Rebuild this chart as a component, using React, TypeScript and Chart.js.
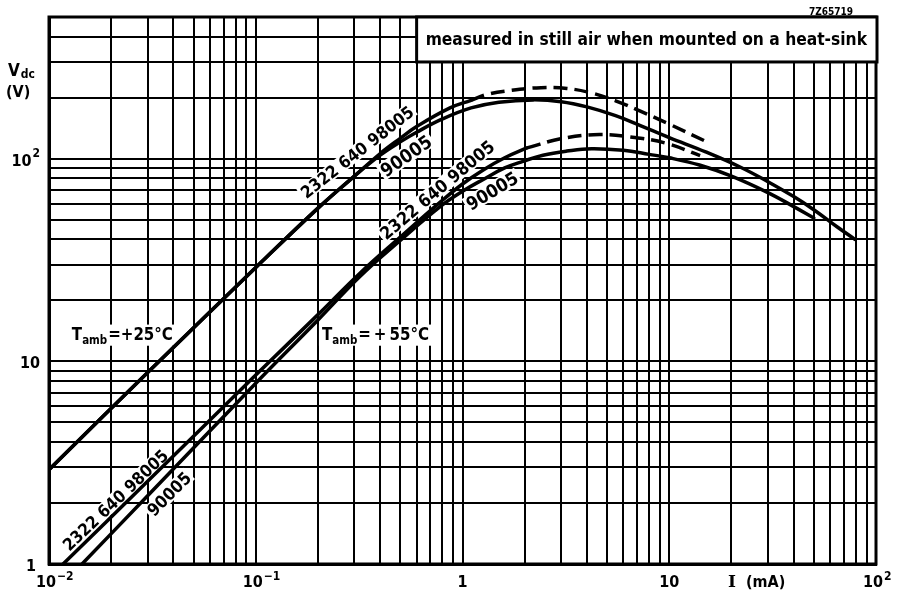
import React, { useEffect, useRef } from "react";
import { Chart, registerables } from "chart.js";

Chart.register(...registerables);

// ---------------- data: current I (mA) and voltage Vdc (V) ----------------
// Tamb = +25 °C
const I_25C_90005 = [0.01, 0.03, 0.1, 0.2, 0.3, 0.4, 0.5, 0.6, 0.8, 1.1, 1.5, 2.2, 3, 4, 5.5, 7.2, 10, 15, 22, 30, 40, 50, 65, 79];
const V_25C_90005 = [2.92, 8.8, 29, 57, 82, 104, 121, 135, 157, 178, 190, 195, 191, 180, 163, 146, 127, 108, 91, 77, 65, 56, 46, 40];
const I_25C_98005 = [0.01, 0.03, 0.1, 0.2, 0.3, 0.4, 0.5, 0.6, 0.87, 1.1];
const V_25C_98005 = [2.92, 8.8, 29, 57, 82, 106, 126, 144, 178, 194];
const I_25C_98005_DASHED = [1.1, 1.3, 1.7, 2.4, 3.2, 4.2, 5.5, 7.2, 10, 15.2];
const V_25C_98005_DASHED = [194, 207, 217, 224, 222, 211, 193, 172, 148, 121];
// Tamb = +55 °C
const I_55C_90005 = [0.01445, 0.03, 0.1, 0.2, 0.32, 0.5, 0.78, 1.0, 1.26, 1.6, 1.96, 2.45, 3.2, 4.2, 6, 8, 10, 14, 20, 30, 40, 50];
const V_55C_90005 = [1, 2.17, 7.8, 16, 26.3, 39.5, 58, 69, 79, 90, 97, 104, 109, 112, 110, 105, 101, 93, 82, 68, 58, 51];
const I_55C_98005 = [0.0117, 0.03, 0.1, 0.2, 0.32, 0.5, 0.78, 1.0, 1.26, 1.6, 2.05];
const V_55C_98005 = [1, 2.56, 8.55, 17, 27.3, 41, 61, 75, 88, 101, 113];
const I_55C_98005_DASHED = [2.05, 3.06, 4.6, 6.5, 9.7, 14.1];
const V_55C_98005_DASHED = [113, 126, 131.5, 128, 119, 103.5];

// ---------------- axes ----------------
const X_MIN = 0.01;
const X_MAX = 100;
const Y_MIN = 1;
const Y_MAX = 500;
const GRID_STEPS = [1, 2, 3, 4, 5, 6, 7, 8, 9];
const X_DECADES = [0.01, 0.1, 1, 10, 100];
const X_TICK_BASE = ["10", "10", "1", "10", "10"];
const X_TICK_EXP = ["\u22122", "\u22121", "", "", "2"];
const Y_DECADES = [1, 10, 100];
const Y_TICK_BASE = ["1", "10", "10"];
const Y_TICK_EXP = ["", "", "2"];

// ---------------- annotations ----------------
const CURVE_LABELS = ["2322 640 98005", "90005", "2322 640 98005", "90005", "2322 640 98005", "90005"];
const CURVE_LABEL_I = [0.309, 0.533, 0.753, 1.39, 0.0209, 0.038];
const CURVE_LABEL_V = [108, 103.5, 70.3, 69.5, 2.07, 2.22];
const CURVE_LABEL_ANGLE = [-38, -35, -40, -31, -43.5, -45];
const CURVE_LABEL_LEN = [138, 58, 143, 57, 138, 54];

const TEMP_LABELS = ["=+25\u00B0C", "=\u2009+\u200955\u00B0C"];
const TEMP_LABEL_I = [0.0129, 0.209];
const TEMP_LABEL_V = [13.6, 13.6];

const NOTE_TEXT = "measured in still air when mounted on a heat-sink";
const NOTE_BOX_I = 0.6;
const NOTE_BOX_V = 300;
const CODE_TEXT = "7Z65719";

const SANS = '"DejaVu Sans Condensed", "DejaVu Sans", sans-serif';
const SERIF = '"DejaVu Serif", "Liberation Serif", serif';

function logTicks(min: number, max: number) {
  const out: { value: number }[] = [];
  const d0 = Math.floor(Math.log10(min));
  const d1 = Math.ceil(Math.log10(max));
  for (let d = d0; d <= d1; d++) {
    for (const m of GRID_STEPS) {
      const v = parseFloat((m * Math.pow(10, d)).toPrecision(6));
      if (v >= min * 0.9999 && v <= max * 1.0001) out.push({ value: v });
    }
  }
  return out;
}

function fitSize(ctx: CanvasRenderingContext2D, text: string, target: number, weight = "bold", family = SANS) {
  ctx.font = `${weight} 20px ${family}`;
  const w = ctx.measureText(text).width;
  return Math.min(24, (20 * target) / w);
}

function tempParts(ctx: CanvasRenderingContext2D, text: string, s: number) {
  ctx.font = `bold ${19 * s}px ${SANS}`;
  const wT = ctx.measureText("T").width;
  ctx.font = `bold ${13 * s}px ${SANS}`;
  const wSub = ctx.measureText("amb").width;
  ctx.font = `bold ${19 * s}px ${SANS}`;
  const wRest = ctx.measureText(text).width;
  return { wT, wSub, wRest, total: wT + wSub + 1 + wRest };
}

const annotations = {
  id: "annotations",
  beforeDatasetsDraw(chart: any) {
    const { ctx, chartArea: a } = chart;
    const xs = chart.scales.x;
    const ys = chart.scales.y;
    ctx.save();
    ctx.fillStyle = "#fff";
    // white ground behind curve labels (hides the grid there)
    CURVE_LABELS.forEach((t, i) => {
      const size = fitSize(ctx, t, CURVE_LABEL_LEN[i]);
      const px = xs.getPixelForValue(CURVE_LABEL_I[i]);
      const py = ys.getPixelForValue(CURVE_LABEL_V[i]);
      ctx.save();
      ctx.translate(px, py);
      ctx.rotate((CURVE_LABEL_ANGLE[i] * Math.PI) / 180);
      const w = CURVE_LABEL_LEN[i] + 4;
      const h = size * 0.92;
      ctx.fillRect(-w / 2, -h / 2, w, h);
      ctx.restore();
    });
    // white ground behind temperature labels
    const base = tempParts(ctx, TEMP_LABELS[0], 1);
    const s = 101 / base.total;
    TEMP_LABELS.forEach((t, i) => {
      const p = tempParts(ctx, t, s);
      const px = xs.getPixelForValue(TEMP_LABEL_I[i]);
      const py = ys.getPixelForValue(TEMP_LABEL_V[i]);
      ctx.fillRect(px - 3, py - 11 * s, p.total + 6, 24 * s);
    });
    // plot frame
    ctx.strokeStyle = "#000";
    ctx.lineWidth = 3;
    ctx.strokeRect(a.left, a.top, a.right - a.left, a.bottom - a.top);
    ctx.restore();
  },
  afterDatasetsDraw(chart: any) {
    const { ctx, chartArea: a } = chart;
    const xs = chart.scales.x;
    const ys = chart.scales.y;
    ctx.save();
    ctx.fillStyle = "#000";
    // curve labels
    CURVE_LABELS.forEach((t, i) => {
      const size = fitSize(ctx, t, CURVE_LABEL_LEN[i]);
      const px = xs.getPixelForValue(CURVE_LABEL_I[i]);
      const py = ys.getPixelForValue(CURVE_LABEL_V[i]);
      ctx.save();
      ctx.translate(px, py);
      ctx.rotate((CURVE_LABEL_ANGLE[i] * Math.PI) / 180);
      ctx.font = `bold ${size}px ${SANS}`;
      ctx.textAlign = "center";
      ctx.textBaseline = "alphabetic";
      ctx.fillText(t, 0, size * 0.36);
      ctx.restore();
    });
    // temperature labels
    const base = tempParts(ctx, TEMP_LABELS[0], 1);
    const s = 101 / base.total;
    TEMP_LABELS.forEach((t, i) => {
      const p = tempParts(ctx, t, s);
      const px = xs.getPixelForValue(TEMP_LABEL_I[i]);
      const py = ys.getPixelForValue(TEMP_LABEL_V[i]);
      const bl = py + 7 * s;
      ctx.textAlign = "left";
      ctx.textBaseline = "alphabetic";
      ctx.font = `bold ${19 * s}px ${SANS}`;
      ctx.fillText("T", px, bl);
      ctx.font = `bold ${13 * s}px ${SANS}`;
      ctx.fillText("amb", px + p.wT, bl + 4 * s);
      ctx.font = `bold ${19 * s}px ${SANS}`;
      ctx.fillText(t, px + p.wT + p.wSub + 1, bl);
    });
    // note box
    const bx = xs.getPixelForValue(NOTE_BOX_I);
    const by = ys.getPixelForValue(NOTE_BOX_V);
    ctx.fillStyle = "#fff";
    ctx.fillRect(bx, a.top, a.right + 1 - bx, by - a.top);
    ctx.strokeStyle = "#000";
    ctx.lineWidth = 3;
    ctx.strokeRect(bx, a.top, a.right + 1 - bx, by - a.top);
    ctx.fillStyle = "#000";
    const ns = fitSize(ctx, NOTE_TEXT, a.right - bx - 18);
    ctx.font = `bold ${ns}px ${SANS}`;
    ctx.textAlign = "center";
    ctx.textBaseline = "middle";
    ctx.fillText(NOTE_TEXT, (bx + a.right) / 2, (a.top + by) / 2 + 1);
    ctx.restore();
  },
  afterDraw(chart: any) {
    const { ctx, chartArea: a } = chart;
    const xs = chart.scales.x;
    const ys = chart.scales.y;
    ctx.save();
    ctx.fillStyle = "#000";
    ctx.textBaseline = "alphabetic";
    // x tick labels
    X_DECADES.forEach((v, i) => {
      const px = xs.getPixelForValue(v);
      ctx.font = `bold 16px ${SANS}`;
      const wb = ctx.measureText(X_TICK_BASE[i]).width;
      const hasExp = X_TICK_EXP[i] !== "";
      const cx = px - (hasExp ? 3 : 0);
      ctx.textAlign = "left";
      ctx.fillText(X_TICK_BASE[i], cx - wb / 2, a.bottom + 23);
      if (hasExp) {
        ctx.font = `bold 12px ${SANS}`;
        ctx.fillText(X_TICK_EXP[i], cx + wb / 2 + 1, a.bottom + 16);
      }
    });
    // y tick labels
    Y_DECADES.forEach((v, i) => {
      const py = ys.getPixelForValue(v);
      const right = a.left - 9;
      ctx.textAlign = "right";
      if (Y_TICK_EXP[i] !== "") {
        ctx.font = `bold 12px ${SANS}`;
        const we = ctx.measureText(Y_TICK_EXP[i]).width;
        ctx.fillText(Y_TICK_EXP[i], right, py - 2);
        ctx.font = `bold 16px ${SANS}`;
        ctx.fillText(Y_TICK_BASE[i], right - we - 1, py + 7);
      } else {
        ctx.font = `bold 16px ${SANS}`;
        ctx.fillText(Y_TICK_BASE[i], right - (Y_TICK_BASE[i] === "1" ? 4 : 0), py + 7);
      }
    });
    // axis titles
    ctx.textAlign = "left";
    ctx.font = `bold 17px ${SERIF}`;
    ctx.fillText("I", 728, a.bottom + 23);
    ctx.font = `bold 16px ${SANS}`;
    ctx.fillText("(mA)", 746, a.bottom + 23);
    ctx.font = `bold 17px ${SANS}`;
    ctx.fillText("V", 8, 76);
    const wv = ctx.measureText("V").width;
    ctx.font = `bold 12px ${SANS}`;
    ctx.fillText("dc", 8 + wv + 1, 78);
    ctx.font = `bold 16px ${SANS}`;
    ctx.fillText("(V)", 6, 97);
    // drawing code
    ctx.font = `bold 10px ${SANS}`;
    ctx.textAlign = "right";
    ctx.fillText(CODE_TEXT, 853, 15);
    ctx.restore();
  },
};

function pts(xs: number[], ys: number[]) {
  return xs.map((x, i) => ({ x, y: ys[i] }));
}

function solid(label: string, data: { x: number; y: number }[]) {
  return {
    label,
    data,
    borderColor: "#000",
    backgroundColor: "#000",
    borderWidth: 3.5,
    pointRadius: 0,
    fill: false,
    tension: 0.4,
    borderCapStyle: "round",
    borderJoinStyle: "round",
  };
}

function dashed(label: string, data: { x: number; y: number }[]) {
  return { ...solid(label, data), borderDash: [14, 7], borderCapStyle: "butt" };
}

export default function App() {
  const ref = useRef<HTMLCanvasElement>(null);
  useEffect(() => {
    const canvas = ref.current;
    if (!canvas) return;
    const chart = new Chart(canvas, {
      type: "line",
      data: {
        datasets: [
          solid("25 °C 90005", pts(I_25C_90005, V_25C_90005)),
          solid("25 °C 98005", pts(I_25C_98005, V_25C_98005)),
          dashed("25 °C 98005 (dashed)", pts(I_25C_98005_DASHED, V_25C_98005_DASHED)),
          solid("55 °C 90005", pts(I_55C_90005, V_55C_90005)),
          solid("55 °C 98005", pts(I_55C_98005, V_55C_98005)),
          dashed("55 °C 98005 (dashed)", pts(I_55C_98005_DASHED, V_55C_98005_DASHED)),
        ] as any,
      },
      options: {
        responsive: false,
        animation: false,
        devicePixelRatio: 1,
        events: [],
        layout: { padding: { top: 17, right: 31, left: 0, bottom: 0 } },
        plugins: { legend: { display: false }, tooltip: { enabled: false } },
        scales: {
          x: {
            type: "logarithmic",
            min: X_MIN,
            max: X_MAX,
            grid: { color: "#000", lineWidth: 2, drawTicks: false },
            border: { color: "#000", width: 3 },
            ticks: { display: false },
            afterBuildTicks: (s: any) => {
              s.ticks = logTicks(X_MIN, X_MAX);
            },
            afterFit: (s: any) => {
              s.height = 28;
            },
          },
          y: {
            type: "logarithmic",
            min: Y_MIN,
            max: Y_MAX,
            grid: { color: "#000", lineWidth: 2, drawTicks: false },
            border: { color: "#000", width: 3 },
            ticks: { display: false },
            afterBuildTicks: (s: any) => {
              s.ticks = logTicks(Y_MIN, Y_MAX);
            },
            afterFit: (s: any) => {
              s.width = 49;
            },
          },
        },
      } as any,
      plugins: [annotations],
    });
    return () => chart.destroy();
  }, []);
  return (
    <div style={{ position: "absolute", left: 0, top: 0, width: 907, height: 592, background: "#fff" }}>
      <canvas ref={ref} width={907} height={592} style={{ display: "block" }} />
    </div>
  );
}
